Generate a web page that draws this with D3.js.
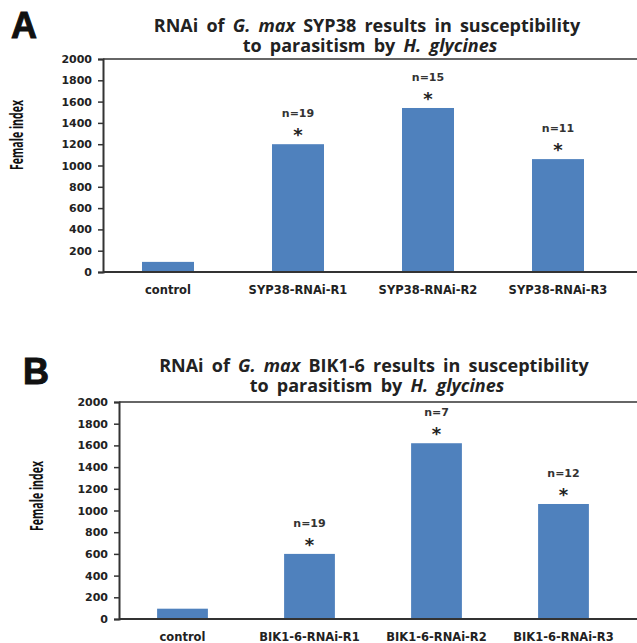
<!DOCTYPE html>
<html>
<head>
<meta charset="utf-8">
<script src="https://cdn.jsdelivr.net/npm/d3@7"></script>
<style>
  body { margin: 0; background: #fff; }
  svg { display: block; }
</style>
</head>
<body>
<svg id="chart" width="637" height="643"></svg>
<script>
// data
var categoriesA = ['control', 'SYP38-RNAi-R1', 'SYP38-RNAi-R2', 'SYP38-RNAi-R3'];
var valuesA = [95, 1200, 1540, 1060];
var nLabelsA = ['', 'n=19', 'n=15', 'n=11'];

var categoriesB = ['control', 'BIK1-6-RNAi-R1', 'BIK1-6-RNAi-R2', 'BIK1-6-RNAi-R3'];
var valuesB = [95, 600, 1620, 1060];
var nLabelsB = ['', 'n=19', 'n=7', 'n=12'];

var yTicks = [0, 200, 400, 600, 800, 1000, 1200, 1400, 1600, 1800, 2000];
var yMax = 2000;

var svg = d3.select('#chart');

function drawPanel(opts) {
    var g = svg.append('g');

    // panel letter
    g.append('text')
        .attr('x', opts.letterX)
        .attr('y', opts.letterY)
        .attr('font-family', 'Liberation Sans, Arial, sans-serif')
        .attr('font-weight', 'bold')
        .attr('font-size', 36)
        .attr('stroke', '#111')
        .attr('stroke-width', 1)
        .attr('fill', '#111')
        .text(opts.letter);

    // title, two lines with italic species names
    var t1 = g.append('text')
        .attr('x', opts.titleX)
        .attr('y', opts.titleY)
        .attr('text-anchor', 'middle')
        .attr('font-family', 'Open Sans, sans-serif')
        .attr('font-weight', 'bold')
        .attr('font-size', 18)
        .attr('word-spacing', 3.5)
        .attr('fill', '#222');
    t1.append('tspan').text('RNAi of ');
    t1.append('tspan').attr('font-style', 'italic').text('G. max');
    t1.append('tspan').text(' ' + opts.gene + ' results in susceptibility');

    var t2 = g.append('text')
        .attr('x', opts.titleX + 3)
        .attr('y', opts.titleY + 20)
        .attr('text-anchor', 'middle')
        .attr('font-family', 'Open Sans, sans-serif')
        .attr('font-weight', 'bold')
        .attr('font-size', 18)
        .attr('word-spacing', 3.5)
        .attr('fill', '#222');
    t2.append('tspan').text('to parasitism  by ');
    t2.append('tspan').attr('font-style', 'italic').text('H. glycines');

    var x = d3.scaleBand()
        .domain(opts.categories)
        .range([opts.left, opts.right])
        .paddingInner(0.6)
        .paddingOuter(0.3);

    var y = d3.scaleLinear()
        .domain([0, yMax])
        .range([opts.bottom, opts.top]);

    // top frame line
    g.append('line')
        .attr('x1', opts.left)
        .attr('x2', 637)
        .attr('y1', y(yMax))
        .attr('y2', y(yMax))
        .attr('stroke', '#333')
        .attr('stroke-width', 1.5);

    // bars
    g.selectAll('.bar')
        .data(opts.values)
        .enter()
        .append('rect')
        .attr('class', 'bar')
        .attr('x', function(d, i) { return x(opts.categories[i]); })
        .attr('y', function(d) { return y(d); })
        .attr('width', x.bandwidth())
        .attr('height', function(d) { return y(0) - y(d); })
        .attr('fill', '#4F81BD');

    // y axis
    var yAxis = g.append('g')
        .attr('transform', 'translate(' + opts.left + ',0)')
        .call(d3.axisLeft(y).tickValues(yTicks).tickSize(5).tickPadding(6).tickFormat(d3.format('d')));
    yAxis.select('.domain').attr('stroke', '#333').attr('stroke-width', 2);
    yAxis.selectAll('.tick line').attr('stroke', '#333').attr('stroke-width', 1.5);
    yAxis.selectAll('.tick text')
        .attr('font-family', 'DejaVu Sans, Verdana, sans-serif')
        .attr('font-weight', 'bold')
        .attr('font-size', 11)
        .attr('fill', '#222');

    // x axis
    var xAxis = g.append('g')
        .attr('transform', 'translate(0,' + opts.bottom + ')')
        .call(d3.axisBottom(x).tickSize(0).tickPadding(opts.xPad));
    xAxis.select('.domain').remove();
    xAxis.selectAll('.tick text')
        .attr('font-family', 'DejaVu Sans, Verdana, sans-serif')
        .attr('font-weight', 'bold')
        .attr('font-size', 11.5)
        .attr('fill', '#222');
    g.append('line')
        .attr('x1', opts.left)
        .attr('x2', 637)
        .attr('y1', opts.bottom)
        .attr('y2', opts.bottom)
        .attr('stroke', '#333')
        .attr('stroke-width', 2);

    // y axis title
    g.append('text')
        .attr('transform', 'translate(' + opts.yTitleX + ',' + opts.yTitleY + ') rotate(-90)')
        .attr('text-anchor', 'middle')
        .attr('font-family', 'Open Sans, sans-serif')
        .attr('font-weight', 'bold')
        .attr('font-size', 18)
        .attr('textLength', 70)
        .attr('lengthAdjust', 'spacingAndGlyphs')
        .attr('fill', '#111')
        .text('Female index');

    // n labels and asterisks
    opts.values.forEach(function(v, i) {
        if (!opts.nLabels[i]) return;
        var cx = x(opts.categories[i]) + x.bandwidth() / 2;
        g.append('text')
            .attr('x', cx)
            .attr('y', y(v) - 27)
            .attr('text-anchor', 'middle')
            .attr('font-family', 'DejaVu Sans, Verdana, sans-serif')
            .attr('font-weight', 'bold')
            .attr('font-size', 11)
            .attr('fill', '#333')
            .text(opts.nLabels[i]);
        g.append('text')
            .attr('x', cx)
            .attr('y', y(v) - 3)
            .attr('text-anchor', 'middle')
            .attr('font-family', 'DejaVu Sans, Verdana, sans-serif')
            .attr('font-weight', 'bold')
            .attr('font-size', 18)
            .attr('fill', '#222')
            .text('*');
    });
}

drawPanel({
    letter: 'A', letterX: 11, letterY: 38,
    gene: 'SYP38', titleX: 367, titleY: 32,
    categories: categoriesA, values: valuesA, nLabels: nLabelsA,
    left: 103, right: 623, top: 59, bottom: 272,
    xPad: 14, yTitleX: 23, yTitleY: 135
});

drawPanel({
    letter: 'B', letterX: 23, letterY: 384,
    gene: 'BIK1-6', titleX: 374, titleY: 372,
    categories: categoriesB, values: valuesB, nLabels: nLabelsB,
    left: 119, right: 627, top: 402, bottom: 619,
    xPad: 14, yTitleX: 43, yTitleY: 496
});
</script>
</body>
</html>
